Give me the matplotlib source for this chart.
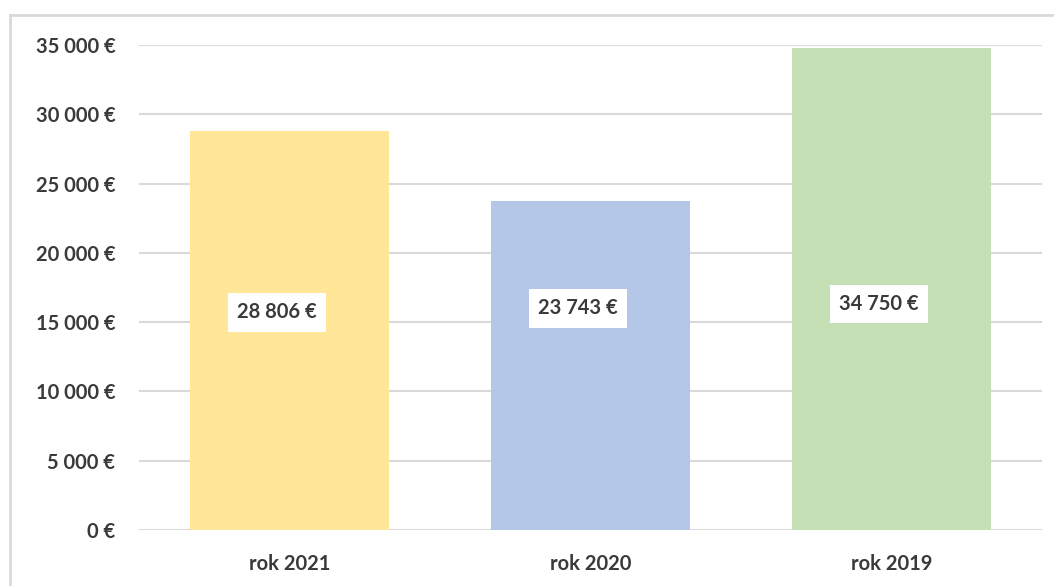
import matplotlib
matplotlib.use("Agg")
import matplotlib.pyplot as plt
from matplotlib.lines import Line2D
from matplotlib.ticker import FuncFormatter

categories = ["rok 2021", "rok 2020", "rok 2019"]
values = [28806, 23743, 34750]
label_y = [15700, 15985, 16310]
colors = ["#FFE699", "#B4C7E7", "#C5E0B4"]
yticks = [0, 5000, 10000, 15000, 20000, 25000, 30000, 35000]

plt.rcParams['font.family'] = ['Lato', 'DejaVu Sans']
W, H = 1054, 586
fig = plt.figure(figsize=(W / 100, H / 100), dpi=100)
ax = fig.add_axes([139 / W, 1 - 530 / H, (1042 - 139) / W, (530 - 45) / H])

def fmt(v):
    return f"{int(v):,}".replace(",", " ") + " €"

FS = 14.5
x = list(range(len(categories)))
ax.bar(x, values, width=0.662, color=colors, zorder=2)
ax.set_xlim(-0.5, 2.5)
ax.set_ylim(0, 35000)
ax.set_yticks(yticks)
ax.yaxis.set_major_formatter(FuncFormatter(lambda v, p: fmt(v)))
ax.set_xticks(x)
ax.set_xticklabels(categories)
ax.grid(axis='y', color='#D9D9D9', linewidth=1.5, zorder=0)
ax.set_axisbelow(True)
for s in ax.spines.values():
    s.set_visible(False)
ax.tick_params(axis='both', length=0, labelsize=FS, labelcolor='#3A3A3A')
ax.tick_params(axis='y', pad=17)
ax.tick_params(axis='x', pad=17)
for lab in ax.get_xticklabels() + ax.get_yticklabels():
    lab.set_fontweight('bold')

for xi, v, ly in zip(x, values, label_y):
    ax.annotate(fmt(v), xy=(xi, ly), xytext=(-9, 0), textcoords='offset points',
                ha='center', va='center', fontsize=FS, fontweight='bold',
                color='#3A3A3A', zorder=3,
                bbox=dict(boxstyle='square,pad=0.45', facecolor='white', edgecolor='none'))

# outer chart border
fig.add_artist(Line2D([9.5 / W, 9.5 / W], [0, 1 - 14.5 / H], color='#D9D9D9', linewidth=2,
                      transform=fig.transFigure))
fig.add_artist(Line2D([9.5 / W, 1], [1 - 14.5 / H, 1 - 14.5 / H], color='#D9D9D9', linewidth=2,
                      transform=fig.transFigure))

fig.savefig("out.png", dpi=100, facecolor='white')
